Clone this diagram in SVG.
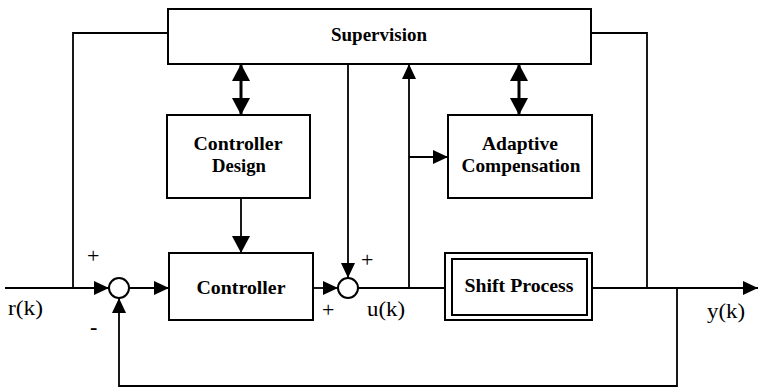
<svg xmlns="http://www.w3.org/2000/svg" width="759" height="389" viewBox="0 0 759 389">
<style>
.box{fill:#fff;stroke:#000;stroke-width:2}
.ln{fill:none;stroke:#000;stroke-width:1.8}
.thick{fill:none;stroke:#000;stroke-width:3}
.lbl{font-family:'Liberation Serif','Times New Roman',Times,serif;font-weight:700;font-size:19.5px;text-anchor:middle;fill:#000}
.sig{font-family:'Liberation Serif','Times New Roman',Times,serif;font-size:22px;fill:#000}
</style>
<defs>
<marker id="ah" markerUnits="userSpaceOnUse" markerWidth="16" markerHeight="16" refX="15" refY="7" orient="auto">
<path d="M0,0 L15,7 L0,14 Z" fill="#000"/>
</marker>
<marker id="ahb" markerUnits="userSpaceOnUse" markerWidth="18" markerHeight="20" refX="17" refY="9" orient="auto">
<path d="M0,0 L17,9 L0,18 Z" fill="#000"/>
</marker>
<marker id="ahs" markerUnits="userSpaceOnUse" markerWidth="18" markerHeight="20" refX="17" refY="9" orient="auto-start-reverse">
<path d="M0,0 L17,9 L0,18 Z" fill="#000"/>
</marker>
</defs>
<g id="connectors">
<path class="ln" d="M5,288 H109" marker-end="url(#ah)"/>
<path class="ln" d="M168,33 H73 V288"/>
<path class="ln" d="M129,288 H169" marker-end="url(#ah)"/>
<path class="ln" d="M313,288 H338" marker-end="url(#ah)"/>
<path class="ln" d="M348,64 V278" marker-end="url(#ah)"/>
<path class="ln" d="M358,288 H445"/>
<path class="ln" d="M409,288 V64" marker-end="url(#ah)"/>
<path class="ln" d="M409,157 H448" marker-end="url(#ah)"/>
<path class="ln" d="M592,288 H758" marker-end="url(#ah)"/>
<path class="ln" d="M647,288 V33 H592"/>
<path class="ln" d="M677,288 V386 H119 V298" marker-end="url(#ah)"/>
<path class="ln" d="M241,198 V253" stroke-width="2.2" marker-end="url(#ahb)"/>
<path class="thick" d="M241,64 V115" marker-start="url(#ahs)" marker-end="url(#ahs)"/>
<path class="thick" d="M519,64 V115" marker-start="url(#ahs)" marker-end="url(#ahs)"/>
</g>
<g id="supervision">
<rect class="box" x="168" y="9" width="423" height="55"/>
<text class="lbl" x="379" y="41" textLength="96" lengthAdjust="spacingAndGlyphs">Supervision</text>
</g>
<g id="controller-design">
<rect class="box" x="167" y="115" width="143" height="83"/>
<text class="lbl" x="238" y="150" textLength="89" lengthAdjust="spacingAndGlyphs">Controller</text>
<text class="lbl" x="239" y="172" textLength="54" lengthAdjust="spacingAndGlyphs">Design</text>
</g>
<g id="adaptive-compensation">
<rect class="box" x="448" y="115" width="144" height="83"/>
<text class="lbl" x="520" y="150" textLength="76" lengthAdjust="spacingAndGlyphs">Adaptive</text>
<text class="lbl" x="521" y="172" textLength="119" lengthAdjust="spacingAndGlyphs">Compensation</text>
</g>
<g id="controller">
<rect class="box" x="169" y="253" width="144" height="67"/>
<text class="lbl" x="241" y="294" textLength="89" lengthAdjust="spacingAndGlyphs">Controller</text>
</g>
<g id="shift-process">
<rect class="box" x="445" y="253" width="147" height="67"/>
<rect class="box" x="452" y="259" width="135" height="56"/>
<text class="lbl" x="519" y="292" textLength="109" lengthAdjust="spacingAndGlyphs">Shift Process</text>
</g>
<g id="sum1">
<circle class="box" cx="119" cy="288" r="10" stroke-width="1.8"/>
</g>
<g id="sum2">
<circle class="box" cx="348" cy="288" r="10" stroke-width="1.8"/>
</g>
<g id="labels">
<text class="sig" x="8" y="315" textLength="35" lengthAdjust="spacingAndGlyphs">r(k)</text>
<text class="sig" x="367" y="316" textLength="38" lengthAdjust="spacingAndGlyphs">u(k)</text>
<text class="sig" x="707" y="318" textLength="38" lengthAdjust="spacingAndGlyphs">y(k)</text>
<text class="sig" x="87" y="263">+</text>
<text class="sig" x="90" y="334" font-weight="700">-</text>
<text class="sig" x="361" y="267">+</text>
<text class="sig" x="322" y="317">+</text>
</g>
</svg>
